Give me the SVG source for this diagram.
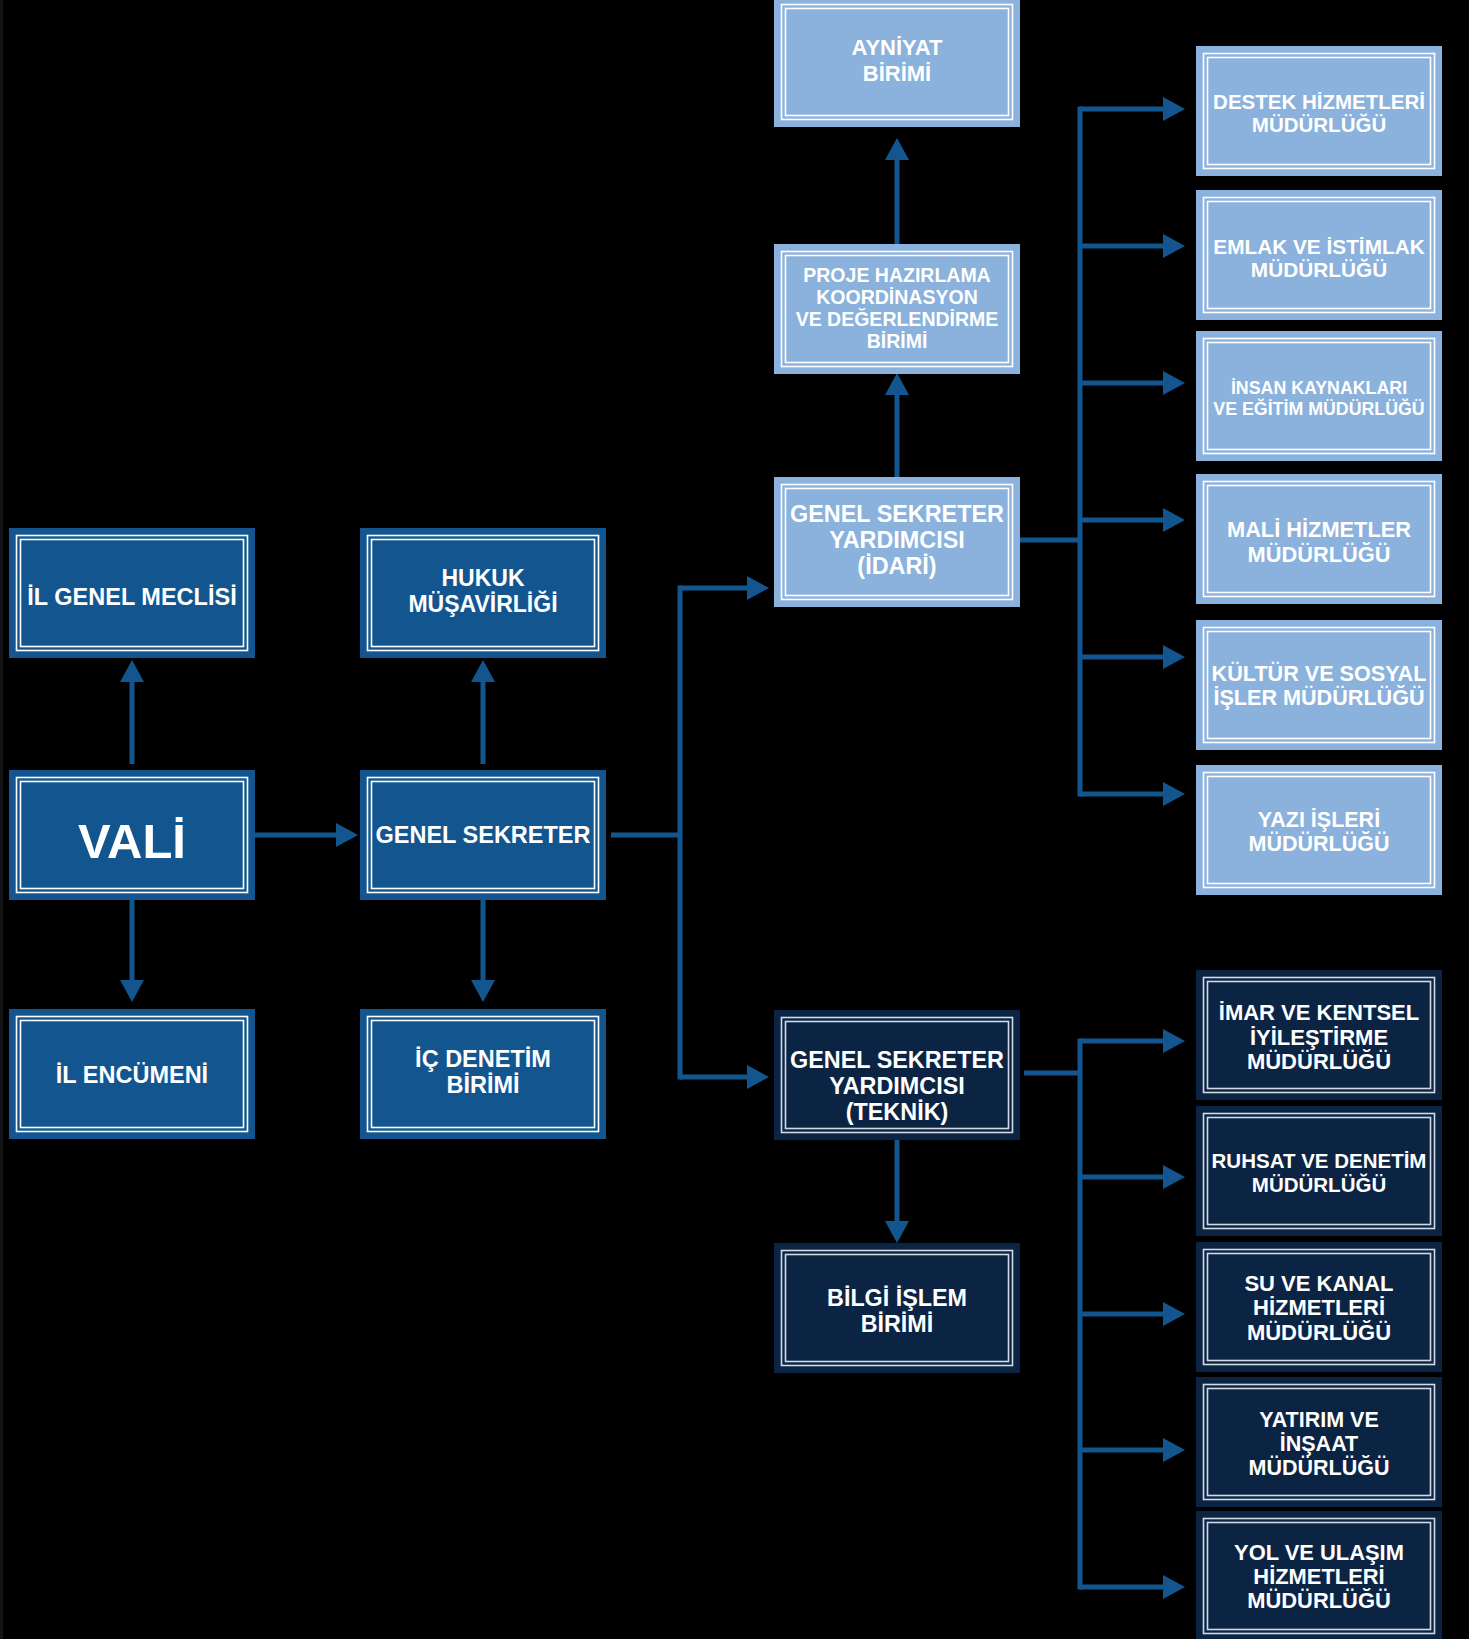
<svg xmlns="http://www.w3.org/2000/svg" width="1479" height="1639" viewBox="0 0 1479 1639">
<defs>
<style>
.bx{stroke:none}
.mid .bx{fill:#13568f}
.lt .bx{fill:#8ab2dd}
.dk .bx{fill:#0c2444}
.l{fill:none;stroke:#ffffff;stroke-width:1.6}
.dk .l{stroke:#d4dae3}
text{font-family:"Liberation Sans",Arial,sans-serif;font-weight:bold;fill:#ffffff;text-anchor:middle}
.c{fill:none;stroke:#13568f;stroke-width:5}
.a{marker-end:url(#ah)}
</style>
<marker id="ah" markerUnits="userSpaceOnUse" markerWidth="22" markerHeight="24" refX="0" refY="12" orient="auto" overflow="visible">
<path d="M0,0 L22,12 L0,24 Z" fill="#13568f"/>
</marker>
</defs>
<rect x="0" y="0" width="1479" height="1639" fill="#ffffff"/>
<rect x="0" y="0" width="1469" height="1639" fill="#000000"/>
<rect x="0" y="0" width="3" height="1639" fill="#141414"/>

<g id="connectors">
<path class="c a" d="M132,764 V682"/>
<path class="c a" d="M132,899 V980"/>
<path class="c a" d="M255,835 H336"/>
<path class="c a" d="M483,764 V682"/>
<path class="c a" d="M483,899 V980"/>
<path class="c" d="M611,835 H680"/>
<path class="c" d="M680,585.5 V1079.5"/>
<path class="c a" d="M680,588 H747"/>
<path class="c a" d="M680,1077 H747"/>
<path class="c a" d="M897,477 V395"/>
<path class="c a" d="M897,244 V160"/>
<path class="c" d="M1020,540 H1080"/>
<path class="c" d="M1080,106.5 V796.5"/>
<path class="c a" d="M1080,109 H1163"/>
<path class="c a" d="M1080,246 H1163"/>
<path class="c a" d="M1080,383 H1163"/>
<path class="c a" d="M1080,520 H1163"/>
<path class="c a" d="M1080,657 H1163"/>
<path class="c a" d="M1080,794 H1163"/>
<path class="c" d="M1024,1073 H1080"/>
<path class="c" d="M1080,1038.5 V1589.5"/>
<path class="c a" d="M1080,1041 H1163"/>
<path class="c a" d="M1080,1177 H1163"/>
<path class="c a" d="M1080,1314 H1163"/>
<path class="c a" d="M1080,1450 H1163"/>
<path class="c a" d="M1080,1587 H1163"/>
<path class="c a" d="M897,1140 V1221"/>
</g>

<g id="il_genel_meclisi" class="mid">
<rect class="bx" x="9" y="528" width="246" height="130"/>
<rect class="l" x="16.5" y="535.5" width="231" height="115"/>
<rect class="l" x="20.5" y="539.5" width="223" height="107"/>
<text x="132" y="605" font-size="23.5">İL GENEL MECLİSİ</text>
</g>
<g id="vali" class="mid">
<rect class="bx" x="9" y="770" width="246" height="130"/>
<rect class="l" x="16.5" y="777.5" width="231" height="115"/>
<rect class="l" x="20.5" y="781.5" width="223" height="107"/>
<text x="132" y="858" font-size="49">VALİ</text>
</g>
<g id="il_encumeni" class="mid">
<rect class="bx" x="9" y="1009" width="246" height="130"/>
<rect class="l" x="16.5" y="1016.5" width="231" height="115"/>
<rect class="l" x="20.5" y="1020.5" width="223" height="107"/>
<text x="132" y="1083" font-size="23.5">İL ENCÜMENİ</text>
</g>

<g id="hukuk_musavirligi" class="mid">
<rect class="bx" x="360" y="528" width="246" height="130"/>
<rect class="l" x="367.5" y="535.5" width="231" height="115"/>
<rect class="l" x="371.5" y="539.5" width="223" height="107"/>
<text x="483" y="586" font-size="23">HUKUK</text>
<text x="483" y="612" font-size="23">MÜŞAVİRLİĞİ</text>
</g>
<g id="genel_sekreter" class="mid">
<rect class="bx" x="360" y="770" width="246" height="130"/>
<rect class="l" x="367.5" y="777.5" width="231" height="115"/>
<rect class="l" x="371.5" y="781.5" width="223" height="107"/>
<text x="483" y="843" font-size="23.5">GENEL SEKRETER</text>
</g>
<g id="ic_denetim" class="mid">
<rect class="bx" x="360" y="1009" width="246" height="130"/>
<rect class="l" x="367.5" y="1016.5" width="231" height="115"/>
<rect class="l" x="371.5" y="1020.5" width="223" height="107"/>
<text x="483" y="1067" font-size="23.5">İÇ DENETİM</text>
<text x="483" y="1093" font-size="23.5">BİRİMİ</text>
</g>

<g id="ayniyat" class="lt">
<rect class="bx" x="774" y="-3" width="246" height="130"/>
<rect class="l" x="781.5" y="4.5" width="231" height="115"/>
<rect class="l" x="785.5" y="8.5" width="223" height="107"/>
<text x="897" y="55" font-size="22">AYNİYAT</text>
<text x="897" y="81" font-size="22">BİRİMİ</text>
</g>
<g id="proje" class="lt">
<rect class="bx" x="774" y="244" width="246" height="130"/>
<rect class="l" x="781.5" y="251.5" width="231" height="115"/>
<rect class="l" x="785.5" y="255.5" width="223" height="107"/>
<text x="897" y="282" font-size="19.5">PROJE HAZIRLAMA</text>
<text x="897" y="304" font-size="19.5">KOORDİNASYON</text>
<text x="897" y="326" font-size="19.5">VE DEĞERLENDİRME</text>
<text x="897" y="348" font-size="19.5">BİRİMİ</text>
</g>
<g id="gsy_idari" class="lt">
<rect class="bx" x="774" y="477" width="246" height="130"/>
<rect class="l" x="781.5" y="484.5" width="231" height="115"/>
<rect class="l" x="785.5" y="488.5" width="223" height="107"/>
<text x="897" y="522" font-size="23.4">GENEL SEKRETER</text>
<text x="897" y="548" font-size="23.4">YARDIMCISI</text>
<text x="897" y="574" font-size="23.4">(İDARİ)</text>
</g>
<g id="gsy_teknik" class="dk">
<rect class="bx" x="774" y="1010" width="246" height="130"/>
<rect class="l" x="781.5" y="1017.5" width="231" height="115"/>
<rect class="l" x="785.5" y="1021.5" width="223" height="107"/>
<text x="897" y="1068" font-size="23.4">GENEL SEKRETER</text>
<text x="897" y="1094" font-size="23.4">YARDIMCISI</text>
<text x="897" y="1120" font-size="23.4">(TEKNİK)</text>
</g>
<g id="bilgi_islem" class="dk">
<rect class="bx" x="774" y="1243" width="246" height="130"/>
<rect class="l" x="781.5" y="1250.5" width="231" height="115"/>
<rect class="l" x="785.5" y="1254.5" width="223" height="107"/>
<text x="897" y="1306" font-size="23.3">BİLGİ İŞLEM</text>
<text x="897" y="1332" font-size="23.3">BİRİMİ</text>
</g>

<g id="destek" class="lt">
<rect class="bx" x="1196" y="46" width="246" height="130"/>
<rect class="l" x="1203.5" y="53.5" width="231" height="115"/>
<rect class="l" x="1207.5" y="57.5" width="223" height="107"/>
<text x="1319" y="109" font-size="20.5">DESTEK HİZMETLERİ</text>
<text x="1319" y="132" font-size="20.5">MÜDÜRLÜĞÜ</text>
</g>
<g id="emlak" class="lt">
<rect class="bx" x="1196" y="190" width="246" height="130"/>
<rect class="l" x="1203.5" y="197.5" width="231" height="115"/>
<rect class="l" x="1207.5" y="201.5" width="223" height="107"/>
<text x="1319" y="254" font-size="20.8">EMLAK VE İSTİMLAK</text>
<text x="1319" y="277" font-size="20.8">MÜDÜRLÜĞÜ</text>
</g>
<g id="insan_kaynaklari" class="lt">
<rect class="bx" x="1196" y="331" width="246" height="130"/>
<rect class="l" x="1203.5" y="338.5" width="231" height="115"/>
<rect class="l" x="1207.5" y="342.5" width="223" height="107"/>
<text x="1319" y="394" font-size="17.8">İNSAN KAYNAKLARI</text>
<text x="1319" y="415" font-size="17.8">VE EĞİTİM MÜDÜRLÜĞÜ</text>
</g>
<g id="mali" class="lt">
<rect class="bx" x="1196" y="474" width="246" height="130"/>
<rect class="l" x="1203.5" y="481.5" width="231" height="115"/>
<rect class="l" x="1207.5" y="485.5" width="223" height="107"/>
<text x="1319" y="537" font-size="21.8">MALİ HİZMETLER</text>
<text x="1319" y="562" font-size="21.8">MÜDÜRLÜĞÜ</text>
</g>
<g id="kultur" class="lt">
<rect class="bx" x="1196" y="620" width="246" height="130"/>
<rect class="l" x="1203.5" y="627.5" width="231" height="115"/>
<rect class="l" x="1207.5" y="631.5" width="223" height="107"/>
<text x="1319" y="681" font-size="21.6">KÜLTÜR VE SOSYAL</text>
<text x="1319" y="705" font-size="21.6">İŞLER MÜDÜRLÜĞÜ</text>
</g>
<g id="yazi_isleri" class="lt">
<rect class="bx" x="1196" y="765" width="246" height="130"/>
<rect class="l" x="1203.5" y="772.5" width="231" height="115"/>
<rect class="l" x="1207.5" y="776.5" width="223" height="107"/>
<text x="1319" y="827" font-size="21.5">YAZI İŞLERİ</text>
<text x="1319" y="851" font-size="21.5">MÜDÜRLÜĞÜ</text>
</g>

<g id="imar" class="dk">
<rect class="bx" x="1196" y="970" width="246" height="130"/>
<rect class="l" x="1203.5" y="977.5" width="231" height="115"/>
<rect class="l" x="1207.5" y="981.5" width="223" height="107"/>
<text x="1319" y="1020" font-size="22">İMAR VE KENTSEL</text>
<text x="1319" y="1045" font-size="22">İYİLEŞTİRME</text>
<text x="1319" y="1069" font-size="22">MÜDÜRLÜĞÜ</text>
</g>
<g id="ruhsat" class="dk">
<rect class="bx" x="1196" y="1106" width="246" height="130"/>
<rect class="l" x="1203.5" y="1113.5" width="231" height="115"/>
<rect class="l" x="1207.5" y="1117.5" width="223" height="107"/>
<text x="1319" y="1168" font-size="20.5">RUHSAT VE DENETİM</text>
<text x="1319" y="1192" font-size="20.5">MÜDÜRLÜĞÜ</text>
</g>
<g id="su_kanal" class="dk">
<rect class="bx" x="1196" y="1242" width="246" height="130"/>
<rect class="l" x="1203.5" y="1249.5" width="231" height="115"/>
<rect class="l" x="1207.5" y="1253.5" width="223" height="107"/>
<text x="1319" y="1291" font-size="22">SU VE KANAL</text>
<text x="1319" y="1315" font-size="22">HİZMETLERİ</text>
<text x="1319" y="1340" font-size="22">MÜDÜRLÜĞÜ</text>
</g>
<g id="yatirim" class="dk">
<rect class="bx" x="1196" y="1377" width="246" height="130"/>
<rect class="l" x="1203.5" y="1384.5" width="231" height="115"/>
<rect class="l" x="1207.5" y="1388.5" width="223" height="107"/>
<text x="1319" y="1427" font-size="21.5">YATIRIM VE</text>
<text x="1319" y="1451" font-size="21.5">İNŞAAT</text>
<text x="1319" y="1475" font-size="21.5">MÜDÜRLÜĞÜ</text>
</g>
<g id="yol" class="dk">
<rect class="bx" x="1196" y="1511" width="246" height="130"/>
<rect class="l" x="1203.5" y="1518.5" width="231" height="115"/>
<rect class="l" x="1207.5" y="1522.5" width="223" height="107"/>
<text x="1319" y="1560" font-size="21.9">YOL VE ULAŞIM</text>
<text x="1319" y="1584" font-size="21.9">HİZMETLERİ</text>
<text x="1319" y="1608" font-size="21.9">MÜDÜRLÜĞÜ</text>
</g>
</svg>
